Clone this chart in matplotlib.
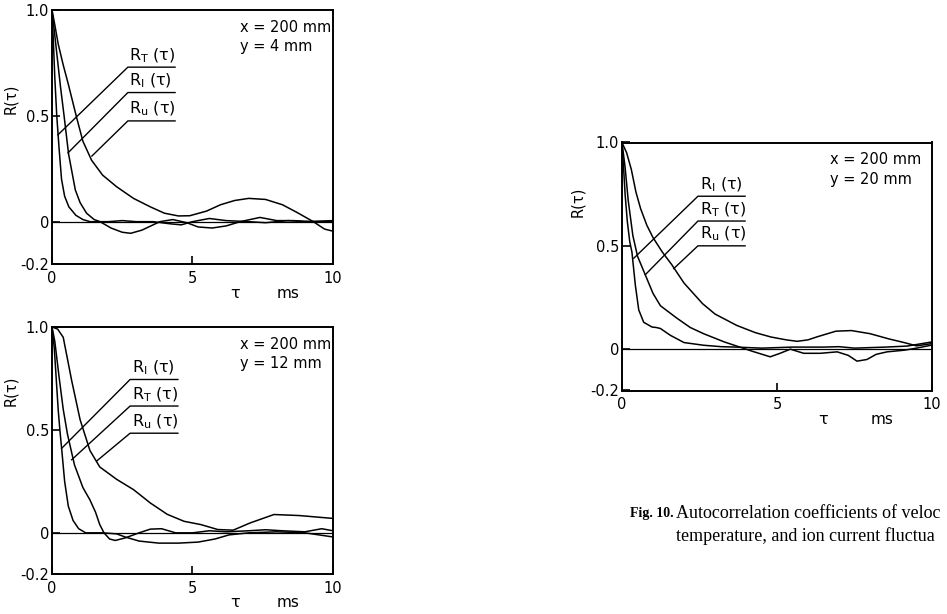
import matplotlib.pyplot as plt

# autocorrelation curves, tau in ms, read station by station (x = 200 mm)
# y = 4 mm
tau_4_T = [0, 0.05, 0.1, 0.17, 0.25, 0.34, 0.45, 0.6, 0.85, 1.1, 1.35, 2.0, 2.5, 3.0,
           3.6, 4.2, 4.6, 5.0, 5.6, 6.2, 7.0, 7.6, 8.4, 9.0, 10]
r_4_T = [1.0, 0.85, 0.68, 0.5, 0.35, 0.2, 0.12, 0.07, 0.03, 0.01, 0.0, 0.0, 0.005, 0.0,
         0.0, -0.01, -0.015, 0.0, 0.015, 0.005, 0.0, -0.005, 0.005, 0.0, 0.005]
tau_4_I = [0, 0.1, 0.2, 0.3, 0.43, 0.59, 0.83, 1.0, 1.23, 1.5, 1.71, 2.1, 2.5, 2.8, 3.2,
           3.84, 4.3, 4.8, 5.2, 5.7, 6.2, 6.7, 7.4, 8.0, 8.6, 9.3, 10]
r_4_I = [1.0, 0.88, 0.76, 0.64, 0.5, 0.32, 0.15, 0.09, 0.04, 0.01, 0.0, -0.03, -0.05, -0.055,
         -0.04, 0.0, 0.01, -0.005, -0.025, -0.03, -0.02, 0.0, 0.02, 0.005, 0.005, 0.0, 0.0]
tau_4_u = [0, 0.1, 0.22, 0.4, 0.58, 0.88, 1.1, 1.41, 1.8, 2.3, 2.9, 3.5, 4.0, 4.5, 4.9,
           5.5, 6.0, 6.5, 7.0, 7.6, 8.2, 8.7, 9.3, 9.7, 10]
r_4_u = [1.0, 0.93, 0.84, 0.74, 0.65, 0.49, 0.38, 0.29, 0.22, 0.165, 0.11, 0.07, 0.04,
         0.027, 0.028, 0.05, 0.08, 0.1, 0.11, 0.105, 0.08, 0.045, 0.0, -0.035, -0.045]

# y = 12 mm
tau_12_I = [0, 0.08, 0.15, 0.22, 0.28, 0.35, 0.45, 0.58, 0.75, 0.95, 1.2, 1.8, 2.3, 2.6,
            3.1, 3.8, 4.5, 5.2, 5.8, 6.3, 7.0, 8.0, 9.0, 10]
r_12_I = [1.0, 0.9, 0.75, 0.6, 0.5, 0.4, 0.25, 0.13, 0.06, 0.02, 0.0, 0.0, -0.005, -0.02,
          -0.04, -0.05, -0.05, -0.045, -0.03, -0.01, 0.0, 0.005, 0.0, -0.02]
tau_12_T = [0, 0.1, 0.25, 0.4, 0.55, 0.8, 1.1, 1.35, 1.55, 1.7, 1.85, 2.05, 2.25, 2.6,
            3.1, 3.5, 3.9, 4.4, 5.0, 5.6, 6.2, 7.0, 7.6, 8.2, 9.0, 9.6, 10]
r_12_T = [1.0, 0.93, 0.76, 0.6, 0.48, 0.33, 0.22, 0.16, 0.1, 0.04, 0.0, -0.03, -0.037,
          -0.025, 0.0, 0.018, 0.02, 0.0, 0.0, 0.01, 0.005, 0.01, 0.015, 0.01, 0.005, 0.02, 0.01]
tau_12_u = [0, 0.2, 0.4, 0.7, 1.0, 1.35, 1.7, 2.3, 2.9, 3.5, 4.1, 4.7, 5.3, 5.9, 6.45,
            7.05, 7.9, 8.8, 10]
r_12_u = [1.0, 0.99, 0.95, 0.74, 0.55, 0.4, 0.32, 0.26, 0.21, 0.145, 0.09, 0.056, 0.04,
          0.016, 0.013, 0.048, 0.089, 0.084, 0.07]

# y = 20 mm
tau_20_I = [0, 0.05, 0.1, 0.17, 0.25, 0.32, 0.43, 0.54, 0.7, 0.97, 1.1, 1.24, 1.56, 2.0,
            2.63, 3.2, 3.7, 4.5, 5.5, 6.5, 7.0, 7.5, 8.5, 9.2, 9.6, 10]
r_20_I = [1.0, 0.88, 0.75, 0.62, 0.52, 0.47, 0.31, 0.19, 0.13, 0.107, 0.105, 0.1, 0.067,
          0.032, 0.019, 0.012, 0.01, 0.005, 0.01, 0.01, 0.012, 0.005, 0.01, 0.015, 0.025, 0.035]
tau_20_T = [0, 0.1, 0.2, 0.35, 0.5, 0.75, 1.0, 1.24, 1.77, 2.2, 2.63, 3.3, 3.8, 4.2, 4.78,
            5.1, 5.43, 5.86, 6.4, 6.94, 7.3, 7.58, 7.9, 8.2, 8.55, 9.1, 9.5, 10]
r_20_T = [1.0, 0.88, 0.72, 0.55, 0.45, 0.36, 0.27, 0.21, 0.15, 0.105, 0.075, 0.035, 0.01,
          -0.01, -0.037, -0.02, 0.0, -0.02, -0.02, -0.013, -0.03, -0.058, -0.05, -0.025,
          -0.013, -0.005, 0.005, 0.02]
tau_20_u = [0, 0.15, 0.3, 0.45, 0.6, 0.8, 1.0, 1.3, 1.6, 2.0, 2.6, 3.0, 3.7, 4.3, 4.8,
            5.3, 5.65, 6.0, 6.3, 6.9, 7.4, 8.0, 8.6, 9.1, 9.5, 10]
r_20_u = [1.0, 0.95, 0.87, 0.76, 0.68, 0.6, 0.54, 0.47, 0.41, 0.32, 0.22, 0.17, 0.115,
          0.08, 0.059, 0.045, 0.038, 0.045, 0.06, 0.087, 0.09, 0.075, 0.05, 0.032, 0.016, 0.027]

LBL_T = r'R$_\mathrm{T}$ (τ)'
LBL_I = r'R$_\mathrm{I}$ (τ)'
LBL_U = r'R$_\mathrm{u}$ (τ)'

plt.rcParams['font.family'] = 'DejaVu Sans'
plt.rcParams['mathtext.fontset'] = 'dejavusans'

fig = plt.figure(figsize=(9.47, 6.14), dpi=100)


def panel(rect, curves, labels, y_mm, under_x, ylab_y):
    ax = fig.add_axes(rect)
    for t, r in curves:
        ax.plot(t, r, color='k', lw=1.1)
    ax.axhline(0, color='k', lw=0.9)
    ax.set_xlim(0, 10)
    ax.set_ylim(-0.2, 1.0)
    ax.set_xticks([0, 5, 10])
    ax.set_xticklabels(['0', '5', '10'])
    ax.set_yticks([-0.2, 0, 0.5, 1.0])
    ax.set_yticklabels(['-0.2', '0', '0.5', '1.0'])
    ax.tick_params(direction='in', length=6, width=1.2, labelsize=10.5, pad=2)
    ax.tick_params(axis='x', pad=5)
    for s in ax.spines.values():
        s.set_linewidth(1.4)
    ax.set_ylabel('R(τ)', fontsize=10.5)
    ax.yaxis.set_label_coords(-0.12, ylab_y)
    ax.text(0.65, -0.115, 'τ', transform=ax.transAxes, fontsize=11.5, ha='center', va='center')
    ax.text(0.84, -0.115, 'ms', transform=ax.transAxes, fontsize=11, ha='center', va='center')
    ax.text(0.67, 0.96, 'x = 200 mm\ny = %d mm' % y_mm, transform=ax.transAxes,
            fontsize=10.5, ha='left', va='top', linespacing=1.35)
    # labels with underline and leader to the curve
    for text, yu, (lx, ly) in labels:
        ax.plot([lx, under_x[0], under_x[1]], [ly, yu, yu], color='k', lw=1.0)
        ax.text(under_x[0] + 0.05, yu + 0.012, text, fontsize=11.5, ha='left', va='bottom')
    return ax


panel([0.0549, 1 - 264 / 614, 281 / 947, 254 / 614],
      [(tau_4_T, r_4_T), (tau_4_I, r_4_I), (tau_4_u, r_4_u)],
      [(LBL_T, 0.73, (0.21, 0.41)), (LBL_I, 0.61, (0.57, 0.325)), (LBL_U, 0.476, (1.42, 0.31))],
      4, (2.7, 4.38), 0.65)

panel([0.0549, 1 - 574 / 614, 281 / 947, 247 / 614],
      [(tau_12_I, r_12_I), (tau_12_T, r_12_T), (tau_12_u, r_12_u)],
      [(LBL_I, 0.745, (0.34, 0.41)), (LBL_T, 0.616, (0.7, 0.355)), (LBL_U, 0.484, (1.6, 0.35))],
      12, (2.78, 4.48), 0.74)

panel([622 / 947, 1 - 390.5 / 614, 310 / 947, 248 / 614],
      [(tau_20_I, r_20_I), (tau_20_T, r_20_T), (tau_20_u, r_20_u)],
      [(LBL_I, 0.74, (0.38, 0.44)), (LBL_T, 0.62, (0.75, 0.36)), (LBL_U, 0.5, (1.67, 0.39))],
      20, (2.45, 3.97), 0.76)

# caption, as far as it fits on the page
serif = 'Liberation Serif'
fig.text(630 / 947, 1 - 513 / 614, 'Fig. 10.', family=serif, fontweight='bold',
         fontsize=10, va='center')
fig.text(676 / 947, 1 - 513 / 614, 'Autocorrelation coefficients of veloc',
         family=serif, fontsize=13, va='center')
fig.text(676 / 947, 1 - 536 / 614, 'temperature, and ion current fluctua',
         family=serif, fontsize=13, va='center')

fig.savefig('out.png', dpi=100)
